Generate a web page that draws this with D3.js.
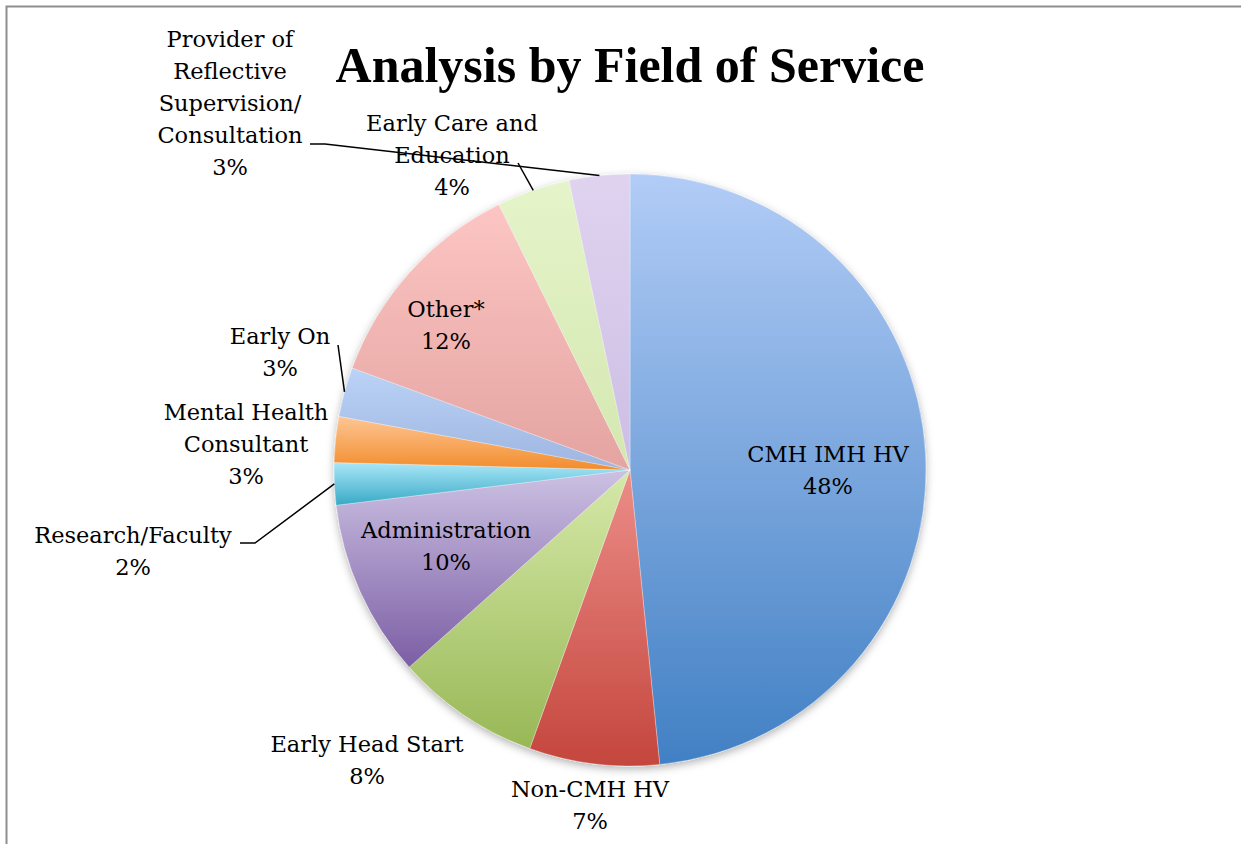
<!DOCTYPE html>
<html>
<head>
<meta charset="utf-8">
<script src="https://cdn.jsdelivr.net/npm/d3@7"></script>
<style>
  body { margin: 0; background: #fff; }
  svg { display: block; }
</style>
</head>
<body>
<svg id="chart"></svg>
<script>
// Data
const categories = ["CMH IMH HV", "Non-CMH HV", "Early Head Start", "Administration",
  "Research/Faculty", "Mental Health Consultant", "Early On", "Other*",
  "Early Care and Education", "Provider of Reflective Supervision/ Consultation"];
const shares = [48.4, 7.1, 7.9, 9.7, 2.3, 2.5, 2.7, 12.1, 4.0, 3.3];

// Label text lines for each slice (name part)
const labelLines = [
  ["CMH IMH HV"], ["Non-CMH HV"], ["Early Head Start"], ["Administration"],
  ["Research/Faculty"], ["Mental Health", "Consultant"], ["Early On"], ["Other*"],
  ["Early Care and", "Education"], ["Provider of", "Reflective", "Supervision/", "Consultation"]
];

// Gradient colours (top, bottom)
const colorsTop = ["#b2ccf6", "#ec8d88", "#d6e9a9", "#ccc1e3", "#aae7f8", "#fdc694", "#bcd3f7", "#fcc5c3", "#e5f4ca", "#e0d3f0"];
const colorsBottom = ["#4180c4", "#c4463d", "#98b856", "#7b5ea4", "#38a9c5", "#f28c2c", "#9db5e0", "#e4a4a1", "#d4e7b0", "#ccbee3"];

// Layout
const width = 1241, height = 844;
const cx = 630, cy = 470, radius = 296;
const lineH = 32;

// label anchor: centre x, first baseline y
const labelPos = [
  [828, 462], [590, 797], [367, 752], [446, 538], [133, 543],
  [246, 420], [280, 344], [446, 317], [452, 131], [230, 47]
];
// leader lines: points on the label side (arc end added from the slice)
const leaders = {
  4: [[240, 543], [255, 543]],
  6: [[338, 345]],
  8: [[518, 163]],
  9: [[310, 144], [325, 144]]
};

const svg = d3.select("#chart")
  .attr("width", width)
  .attr("height", height);

const defs = svg.append("defs");

colorsTop.forEach((c, i) => {
  const g = defs.append("linearGradient")
    .attr("id", "grad" + i)
    .attr("x1", 0).attr("y1", 0).attr("x2", 0).attr("y2", 1);
  g.append("stop").attr("offset", "0%").attr("stop-color", c);
  g.append("stop").attr("offset", "100%").attr("stop-color", colorsBottom[i]);
});

const shadow = defs.append("filter")
  .attr("id", "shadow")
  .attr("x", "-10%").attr("y", "-10%").attr("width", "120%").attr("height", "120%");
shadow.append("feDropShadow")
  .attr("dx", 0).attr("dy", 3)
  .attr("stdDeviation", 4)
  .attr("flood-color", "#000")
  .attr("flood-opacity", 0.3);

// Chart border
svg.append("rect")
  .attr("x", 6.5).attr("y", 6.5)
  .attr("width", 1400).attr("height", 1000)
  .attr("fill", "none")
  .attr("stroke", "#8e8e8e")
  .attr("stroke-width", 2);

// Pie
const pie = d3.pie().sort(null).value(d => d);
const arcs = pie(shares);
const arc = d3.arc().innerRadius(0).outerRadius(radius);

const g = svg.append("g")
  .attr("transform", `translate(${cx},${cy})`);

g.append("g")
  .attr("filter", "url(#shadow)")
  .selectAll("path")
  .data(arcs)
  .enter()
  .append("path")
  .attr("d", arc)
  .attr("fill", (d, i) => `url(#grad${i})`)
  .attr("stroke", "rgba(255,255,255,0.5)")
  .attr("stroke-width", 0.6);

// Leader lines
Object.keys(leaders).forEach(k => {
  const i = +k;
  const a = (arcs[i].startAngle + arcs[i].endAngle) / 2;
  const end = [cx + radius * Math.sin(a), cy - radius * Math.cos(a)];
  const pts = leaders[k].concat([end]);
  svg.append("path")
    .attr("d", d3.line()(pts))
    .attr("fill", "none")
    .attr("stroke", "#000")
    .attr("stroke-width", 1.5);
});

// Labels
labelLines.forEach((lines, i) => {
  const all = lines.concat([Math.round(shares[i]) + "%"]);
  const t = svg.append("text")
    .attr("text-anchor", "middle")
    .style("font-family", "'DejaVu Serif', serif")
    .style("font-size", "22.5px")
    .attr("fill", "#000");
  all.forEach((s, j) => {
    t.append("tspan")
      .attr("x", labelPos[i][0])
      .attr("y", labelPos[i][1] + j * lineH)
      .text(s);
  });
});

// Title
svg.append("text")
  .attr("x", 630)
  .attr("y", 82)
  .attr("text-anchor", "middle")
  .style("font-family", "'Liberation Serif', serif")
  .style("font-weight", "bold")
  .style("font-size", "50px")
  .text("Analysis by Field of Service");
</script>
</body>
</html>
